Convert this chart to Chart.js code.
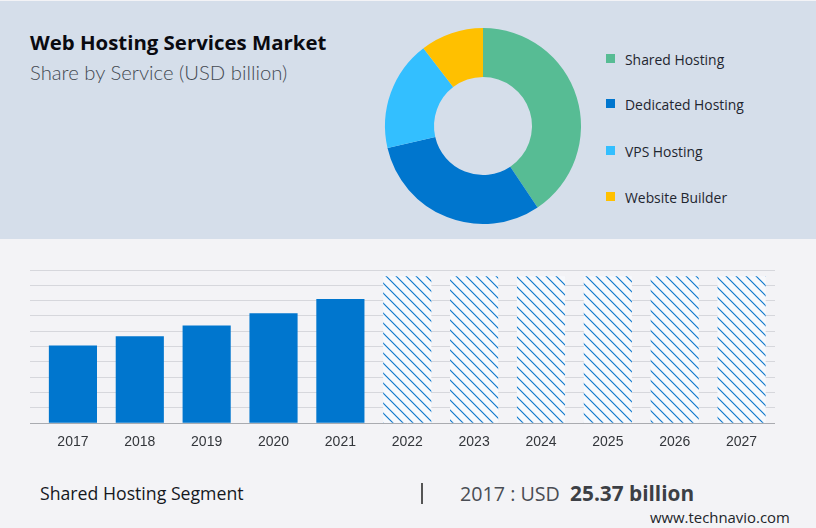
<!DOCTYPE html>
<html>
<head>
<meta charset="utf-8">
<script src="https://cdn.jsdelivr.net/npm/chart.js@4"></script>
<style>
  html, body { margin: 0; padding: 0; }
  body { width: 816px; height: 528px; position: relative; overflow: hidden; background: #f3f3f6; font-family: "Open Sans", sans-serif; }
  #topPanel { position: absolute; left: 0; top: 1px; width: 816px; height: 238px; background: #d5deea; }
  #title { position: absolute; left: 30px; top: 28px; font-size: 20.4px; font-weight: 700; color: #0a0a10; white-space: nowrap; }
  #subtitle { position: absolute; left: 30px; top: 60px; font-family: Lato, sans-serif; font-weight: 300; font-size: 20.3px; color: #444a52; white-space: nowrap; }
  #donutBox { position: absolute; left: 372.5px; top: 16px; width: 220px; height: 220px; }
  #barBox { position: absolute; left: 0; top: 260px; width: 816px; height: 194px; }
  .legendItem { position: absolute; left: 625px; font-size: 13.9px; color: #1f2630; white-space: nowrap; }
  .legendSwatch { position: absolute; left: 606px; width: 9px; height: 9px; }
  #segment { position: absolute; left: 40px; top: 481px; font-size: 17.7px; color: #15181d; white-space: nowrap; }
  #sep { position: absolute; left: 421px; top: 483px; width: 2px; height: 21px; background: #555; }
  #stat { position: absolute; left: 460px; top: 479px; font-size: 19.7px; color: #4a4d54; white-space: nowrap; }
  #stat b { color: #3c3f45; font-size: 20.8px; }
  #source { position: absolute; left: 650px; top: 507px; font-size: 14.9px; color: #22252a; white-space: nowrap; }
</style>
</head>
<body>
<div id="topPanel"></div>
<div id="title">Web Hosting Services Market</div>
<div id="subtitle">Share by Service (USD billion)</div>
<div id="donutBox"><canvas id="donutChart"></canvas></div>
<div id="legend"></div>
<div id="barBox"><canvas id="barChart"></canvas></div>
<div id="segment">Shared Hosting Segment</div>
<div id="sep"></div>
<div id="stat">2017 : USD&nbsp; <b>25.37 billion</b></div>
<div id="source">www.technavio.com</div>

<script>
// Donut data
const services = ['Shared Hosting', 'Dedicated Hosting', 'VPS Hosting', 'Website Builder'];
const serviceShares = [40.6, 30.8, 18.2, 10.4];
const serviceColors = ['#57bc94', '#0076ce', '#33bfff', '#ffc000'];

// Bar data, the last six years are hatched placeholders
const years = ['2017', '2018', '2019', '2020', '2021', '2022', '2023', '2024', '2025', '2026', '2027'];
const actualValues = [25.37, 28.4, 31.9, 35.9, 40.5, null, null, null, null, null, null];
const forecastValues = [null, null, null, null, null, 48, 48, 48, 48, 48, 48];

// Tile for the forecast bars
function makeHatch() {
    const tile = document.createElement('canvas');
    tile.width = 10;
    tile.height = 10;
    const c = tile.getContext('2d');
    c.fillStyle = '#f7f9fc';
    c.fillRect(0, 0, 10, 10);
    c.strokeStyle = '#0f78cc';
    c.lineWidth = 1.2;
    c.beginPath();
    c.moveTo(-2, -2);
    c.lineTo(12, 12);
    c.moveTo(-2, 8);
    c.lineTo(2, 12);
    c.moveTo(8, -2);
    c.lineTo(12, 2);
    c.stroke();
    return c.createPattern(tile, 'repeat');
}

// Legend markers sit next to the donut
const legendTops = [60, 105, 152, 198];
services.forEach((name, i) => {
    const swatch = document.createElement('div');
    swatch.className = 'legendSwatch';
    swatch.style.top = (legendTops[i] - 6) + 'px';
    swatch.style.background = serviceColors[i];
    const label = document.createElement('div');
    label.className = 'legendItem';
    label.style.top = (legendTops[i] - 10) + 'px';
    label.textContent = name;
    document.getElementById('legend').append(swatch, label);
});

new Chart(document.getElementById('donutChart'), {
    type: 'doughnut',
    data: {
        labels: services,
        datasets: [{ data: serviceShares, backgroundColor: serviceColors, borderWidth: 0 }]
    },
    options: {
        responsive: true,
        maintainAspectRatio: false,
        animation: false,
        cutout: '50%',
        layout: { padding: 12 },
        plugins: { legend: { display: false }, tooltip: { enabled: false } }
    }
});

new Chart(document.getElementById('barChart'), {
    type: 'bar',
    data: {
        labels: years,
        datasets: [
            { data: actualValues, backgroundColor: '#0076ce' },
            { data: forecastValues, backgroundColor: makeHatch() }
        ]
    },
    options: {
        responsive: true,
        maintainAspectRatio: false,
        animation: false,
        layout: { padding: { left: 0, right: 41, top: 10, bottom: 0 } },
        plugins: { legend: { display: false }, tooltip: { enabled: false } },
        datasets: { bar: { grouped: false, barPercentage: 0.72, categoryPercentage: 1 } },
        scales: {
            x: {
                grid: { display: false },
                border: { display: false },
                ticks: { color: '#33363b', font: { family: 'Liberation Sans', size: 14 }, padding: 3, maxRotation: 0, autoSkip: false }
            },
            y: {
                min: 0,
                max: 50,
                afterFit: scale => { scale.width = 39.5; },
                ticks: { stepSize: 5, display: false },
                border: { display: false },
                grid: {
                    tickLength: 9.5,
                    lineWidth: 1,
                    color: ctx => ctx.tick.value === 0 ? '#a9abb0' : '#d6d7dc',
                    tickColor: ctx => ctx.tick.value === 0 ? '#a9abb0' : '#d6d7dc'
                }
            }
        }
    }
});
</script>
</body>
</html>
